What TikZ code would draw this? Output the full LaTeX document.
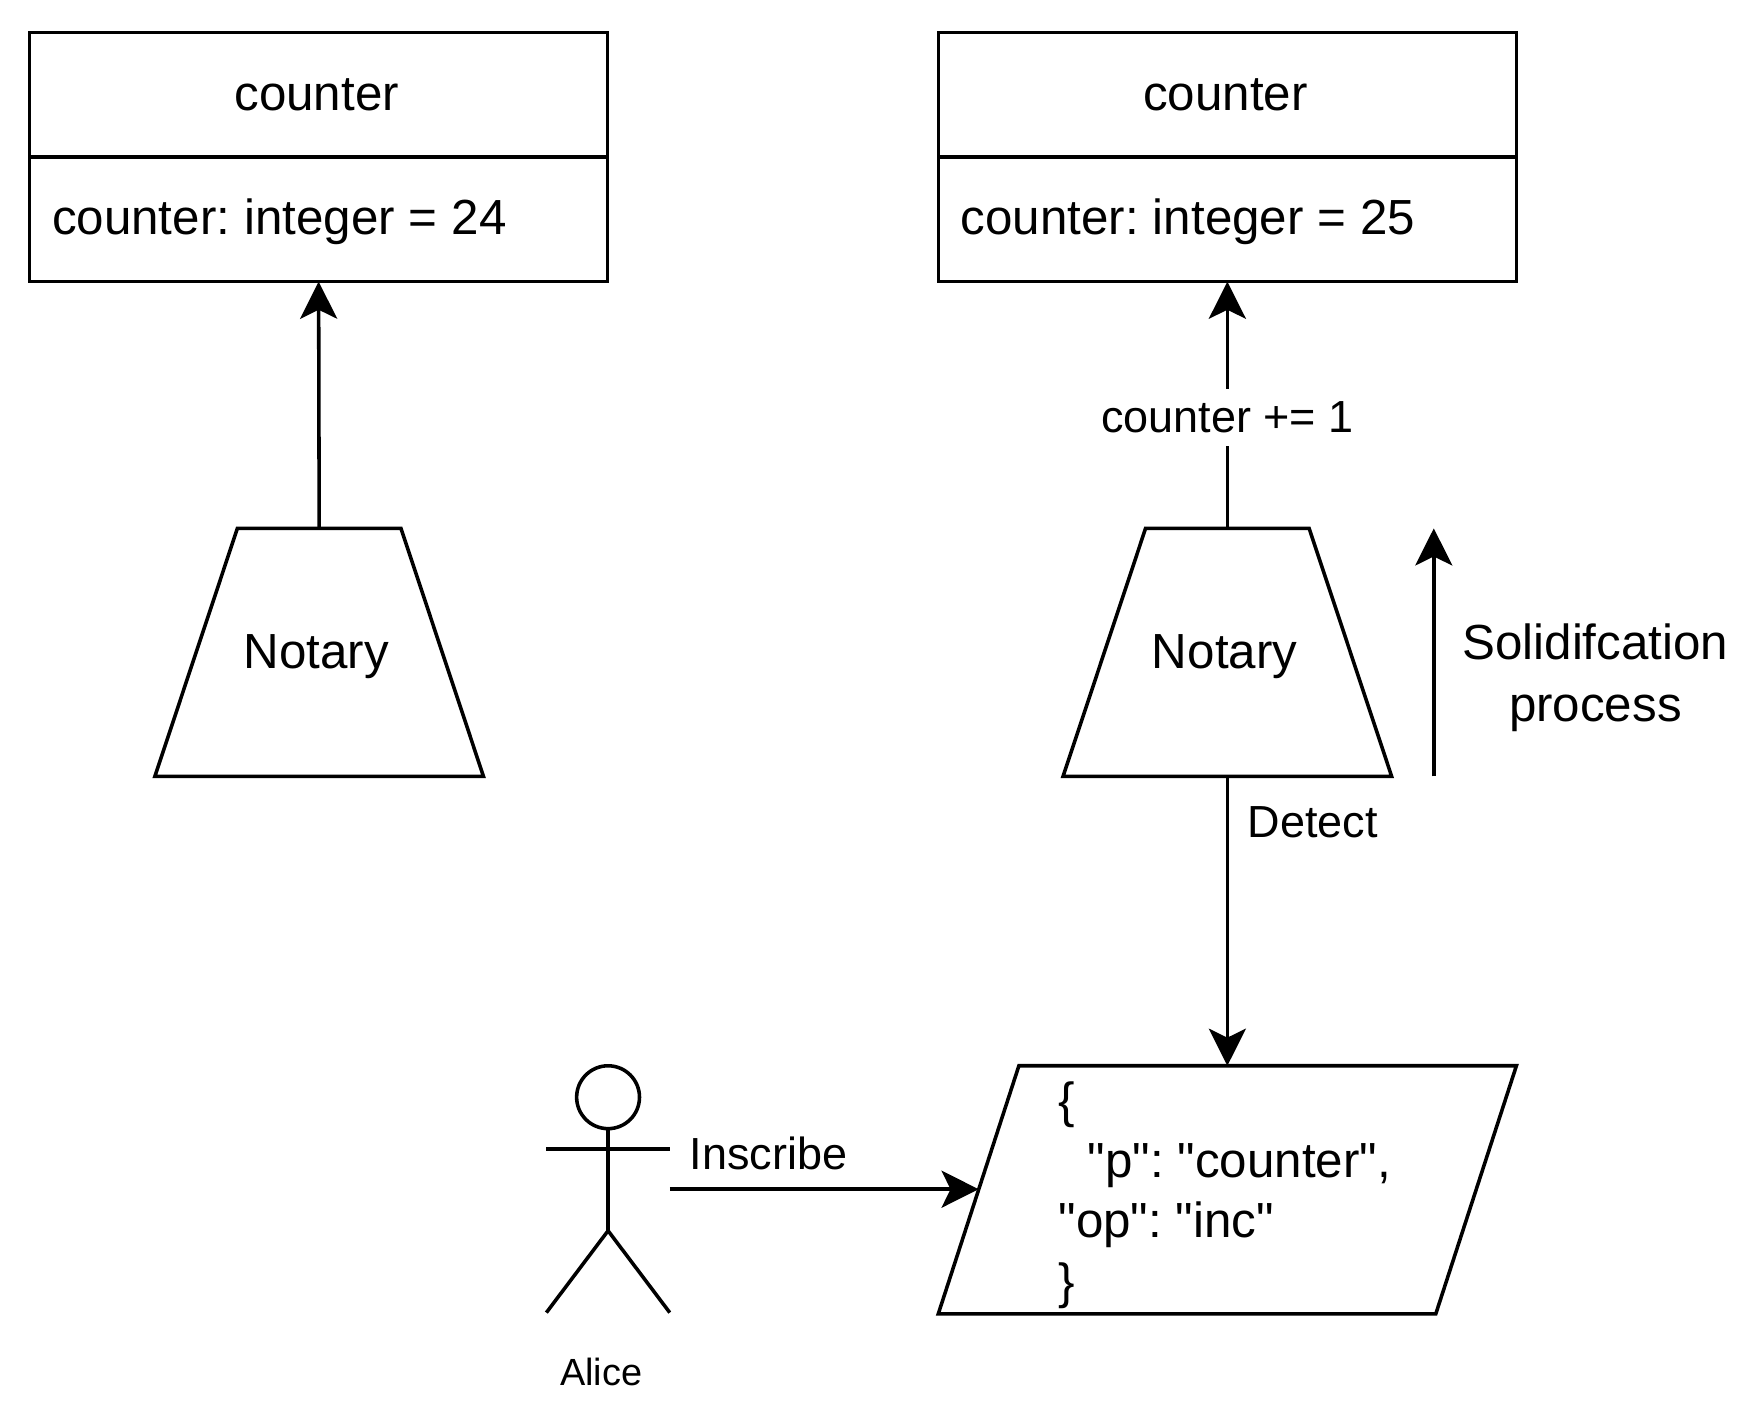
\documentclass[tikz,border=0pt]{standalone}
\usepackage{fontspec}
\setmainfont{Liberation Sans}
\newfontfamily\jsonfont{Liberation Sans}
\frenchspacing
\usetikzlibrary{arrows.meta,positioning,shapes.geometric}
\tikzset{
  every picture/.style={line width=0.9pt},
  classhead/.style={draw,rectangle,minimum width=5.15cm,minimum height=1.11cm,outer sep=0pt,font=\fontsize{12.5}{15}\selectfont},
  classattr/.style={draw,rectangle,text width=4.75cm,text depth=0.05cm,inner xsep=0.2cm,minimum height=1.11cm,align=left,outer sep=0pt,font=\fontsize{12.5}{15}\selectfont,execute at begin node={\spaceskip=3.55pt\relax}},
  notarybox/.style={draw,trapezium,trapezium left angle=71.6,trapezium right angle=71.6,text height=0.33cm,text depth=0.04cm,inner xsep=0.057cm,inner ysep=0.92cm,trapezium stretches body=true,outer sep=0pt,font=\fontsize{12.5}{15}\selectfont},
  inscrbox/.style={draw,trapezium,trapezium left angle=72,trapezium right angle=108,minimum width=5.15cm,inner ysep=1.105cm,trapezium stretches body=true,outer sep=0pt},
  inscrtext/.style={anchor=west,inner sep=0pt,align=left,font=\jsonfont\fontsize{12.5}{15.3}\selectfont},
  arrowline/.style={-{Stealth[length=0.33cm,width=0.33cm,inset=0.08cm]}},
  smalllabel/.style={font=\fontsize{11.4}{14}\selectfont},
}
\begin{document}
\begin{tikzpicture}[x=0.01cm,y=-0.01cm]
\useasboundingbox (0,0) rectangle (1567,1249.7);
\node[classhead] (headl) at (284,84.5) {counter\kern1pt};
\node[classattr,below=0pt of headl] (attrl) {counter: integer = 24};
\node[notarybox] (notaryl) at (284.5,581.5) {Notary\kern1.4pt};
\draw[arrowline] (notaryl.top side) -- (attrl.south);

\node[classhead] (headr) at (1094,84.5) {counter\kern1pt};
\node[classattr,below=0pt of headr] (attrr) {counter: integer = 25};
\node[notarybox] (notaryr) at (1094,581.5) {Notary\kern1.4pt};
\draw[arrowline] (notaryr.top side) -- node[pos=0.45,fill=white,smalllabel] (inclabel) {counter += 1} (attrr.south);

\coordinate (solidlow) at (1278,692);
\coordinate (solidtop) at (1278,471);
\draw[arrowline] (solidlow) -- (solidtop);
\node[align=center,font=\fontsize{12.5}{15.6}\selectfont] (solidlabel) at (1422,604) {Solidifcation\\process};

\node[inscrbox] (inscr) at (1094,1060.5) {};
\node[inscrtext] (inscrjson) at (942,1065) {\{\\\hspace*{0.26cm}"p": "counter",\\"op": "inc"\\\}};
\draw[arrowline] (notaryr.bottom side) -- node[pos=0.16,right=0.05cm,smalllabel] (detectlabel) {Detect} (notaryr.bottom side |- inscr.top side);

\node[draw,circle,minimum size=0.56cm,inner sep=0pt,outer sep=0pt] (alicehead) at (542,978) {};
\coordinate (hip) at (542,1097);
\coordinate (armleft) at (487,1024);
\coordinate (armright) at (597,1024);
\coordinate (footleft) at (487,1170);
\coordinate (footright) at (597,1170);
\coordinate (alicehand) at (597,1060);
\draw (alicehead.south) -- (hip);
\draw (armleft) -- (armright);
\draw (footleft) -- (hip) -- (footright);
\node[font=\fontsize{9.6}{12}\selectfont] (alicelabel) at (536,1223) {Alice};
\draw[arrowline] (alicehand) -- (alicehand -| inscr.left side);
\node[smalllabel] (inscribelabel) at (685,1028) {Inscribe};
\end{tikzpicture}
\end{document}
